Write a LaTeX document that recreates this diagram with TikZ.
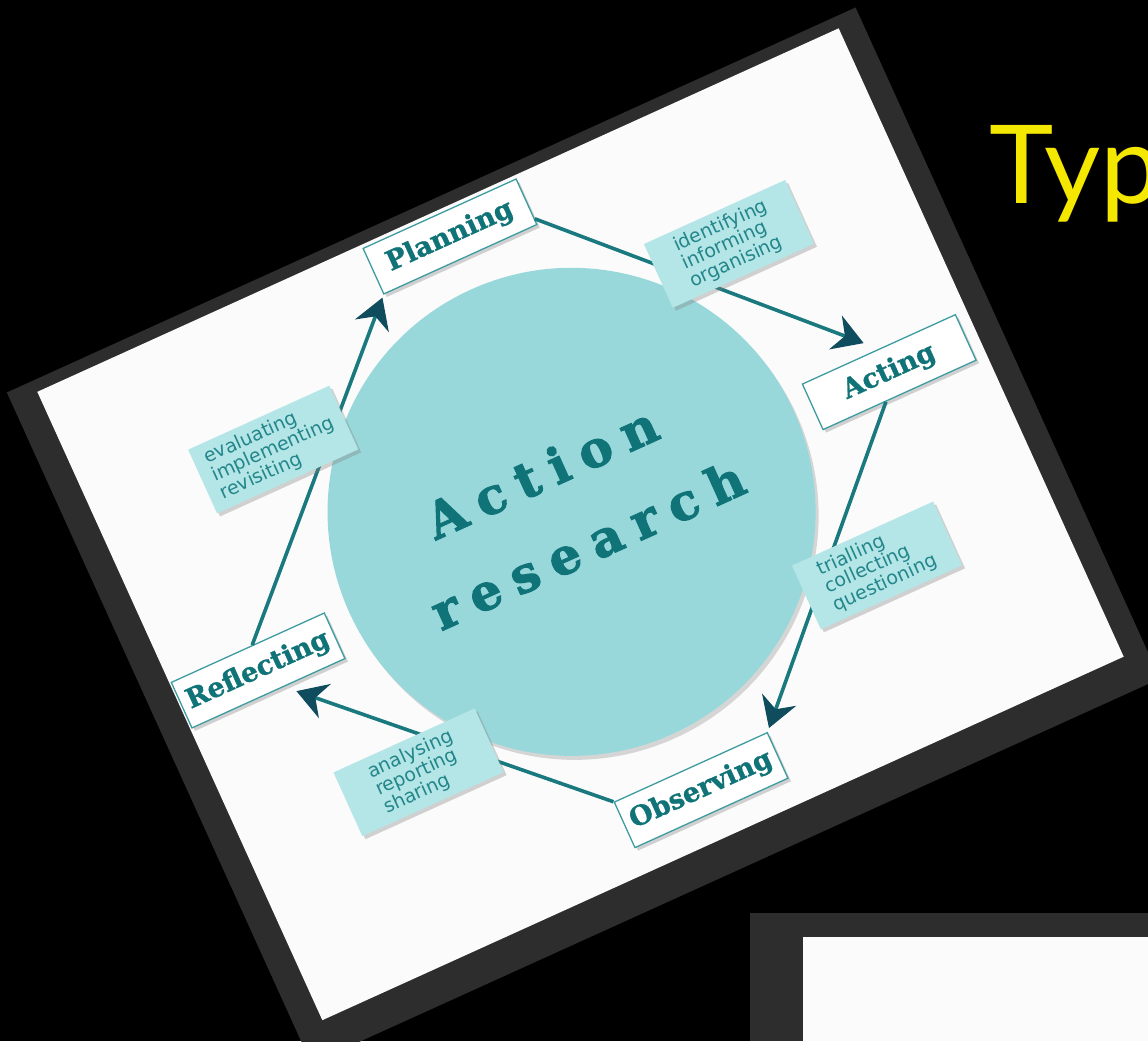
\documentclass[tikz,border=0pt]{standalone}
\usepackage{fontspec}
\usepackage{tikz}
\usetikzlibrary{shapes, arrows.meta, calc, shadows}

\newfontfamily\slabfont[FakeBold=1]{DejaVu Serif}
\newfontfamily\herofont[LetterSpace=27, FakeBold=2]{DejaVu Serif}
\newfontfamily\notefont{DejaVu Sans}
\newfontfamily\titlefont{Lato}

\definecolor{framegray}{HTML}{2D2D2D}
\definecolor{cardwhite}{HTML}{FBFBFB}
\definecolor{hubfill}{HTML}{98D8DB}
\definecolor{notefill}{HTML}{B4E5E7}
\definecolor{tealtext}{HTML}{0F7377}
\definecolor{notetext}{HTML}{23868A}
\definecolor{stageline}{HTML}{3E9CA0}
\definecolor{flowline}{HTML}{19797E}
\definecolor{headfill}{HTML}{0E4C5E}
\definecolor{titleyellow}{HTML}{F5E800}

\tikzstyle{hub} = [circle, fill=hubfill, minimum size=488pt, inner sep=0pt,
    drop shadow={shadow xshift=3pt, shadow yshift=-4pt, opacity=0.3}]
\tikzstyle{hero} = [anchor=base, inner sep=0pt, text=tealtext,
    font=\herofont\bfseries\fontsize{50}{56}\selectfont]
\tikzstyle{stage} = [rectangle, draw=stageline, line width=1.3pt, fill=white,
    text=tealtext, font=\slabfont\bfseries\fontsize{27}{30}\selectfont,
    minimum width=168pt, minimum height=50pt, inner sep=0pt,
    drop shadow={shadow xshift=3pt, shadow yshift=-3pt, opacity=0.35}]
\tikzstyle{note} = [rectangle, fill=notefill, text=notetext,
    font=\notefont\fontsize{19}{19.5}\selectfont, align=left,
    minimum width=155pt, minimum height=70pt, inner sep=0pt,
    drop shadow={shadow xshift=3pt, shadow yshift=-3pt, opacity=0.35}]
\tikzstyle{line} = [draw=flowline, line width=3.6pt,
    -{Stealth[length=30pt, width=36pt, inset=10pt, color=headfill]}]
\tikzstyle{title} = [anchor=base west, inner sep=0pt, text=titleyellow,
    font=\titlefont\fontsize{109}{120}\selectfont]

\begin{document}
\begin{tikzpicture}[x=1pt, y=1pt]
    % Page
    \useasboundingbox (0,0) rectangle (1148,-1041);
    \clip (0,0) rectangle (1148,-1041);
    \fill[black] (0,0) rectangle (1148,-1041);
    % Next slide
    \fill[framegray] (750,-913) rectangle (1148,-1041);
    \fill[cardwhite] (803,-937) rectangle (1148,-1041);
    % Title
    \node[title] (title) at (989,-203) {Typ};
    % Card
    \begin{scope}[shift={(580.5,-524.25)}, rotate=24.4, transform shape]
        \fill[framegray] (-468,-380) rectangle (464,357);
        \fill[cardwhite] (-440,-345) rectangle (440,345);
        % Nodes
        \node[hub] (hub) at (-3,15) {};
        \node[hero] (action) at (-14,45) {Action};
        \node[hero] (research) at (-2,-40) {research};
        \node[stage] (planning) at (0,316) {Planning};
        \node[stage] (acting) at (344,11) {Acting};
        \node[stage] (observing) at (0,-292) {Observing};
        \node[stage] (reflecting) at (-354,0) {Reflecting};
        % Edges
        \path[line, shorten >=16pt] ($(planning.south east)!0.13!(planning.north east)$) -- (acting.north);
        \path[line, shorten >=4pt] ($(acting.south west)!0.41!(acting.south east)$) -- (observing.north east);
        \path[line, shorten >=13pt] (observing.north west) -- ($(reflecting.south west)!0.6!(reflecting.south east)$);
        \path[line, shorten >=3pt] ($(reflecting.north west)!0.53!(reflecting.north east)$) -- (planning.south west);
        % Notes
        \node[note] (identify) at (251,194) {identifying\\informing\\organising};
        \node[note] (trial) at (253,-160) {trialling\\collecting\\questioning};
        \node[note] (analyse) at (-250,-159) {analysing\\reporting\\sharing};
        \node[note] (evaluate) at (-249,195) {evaluating\\implementing\\revisiting};
    \end{scope}
\end{tikzpicture}
\end{document}
